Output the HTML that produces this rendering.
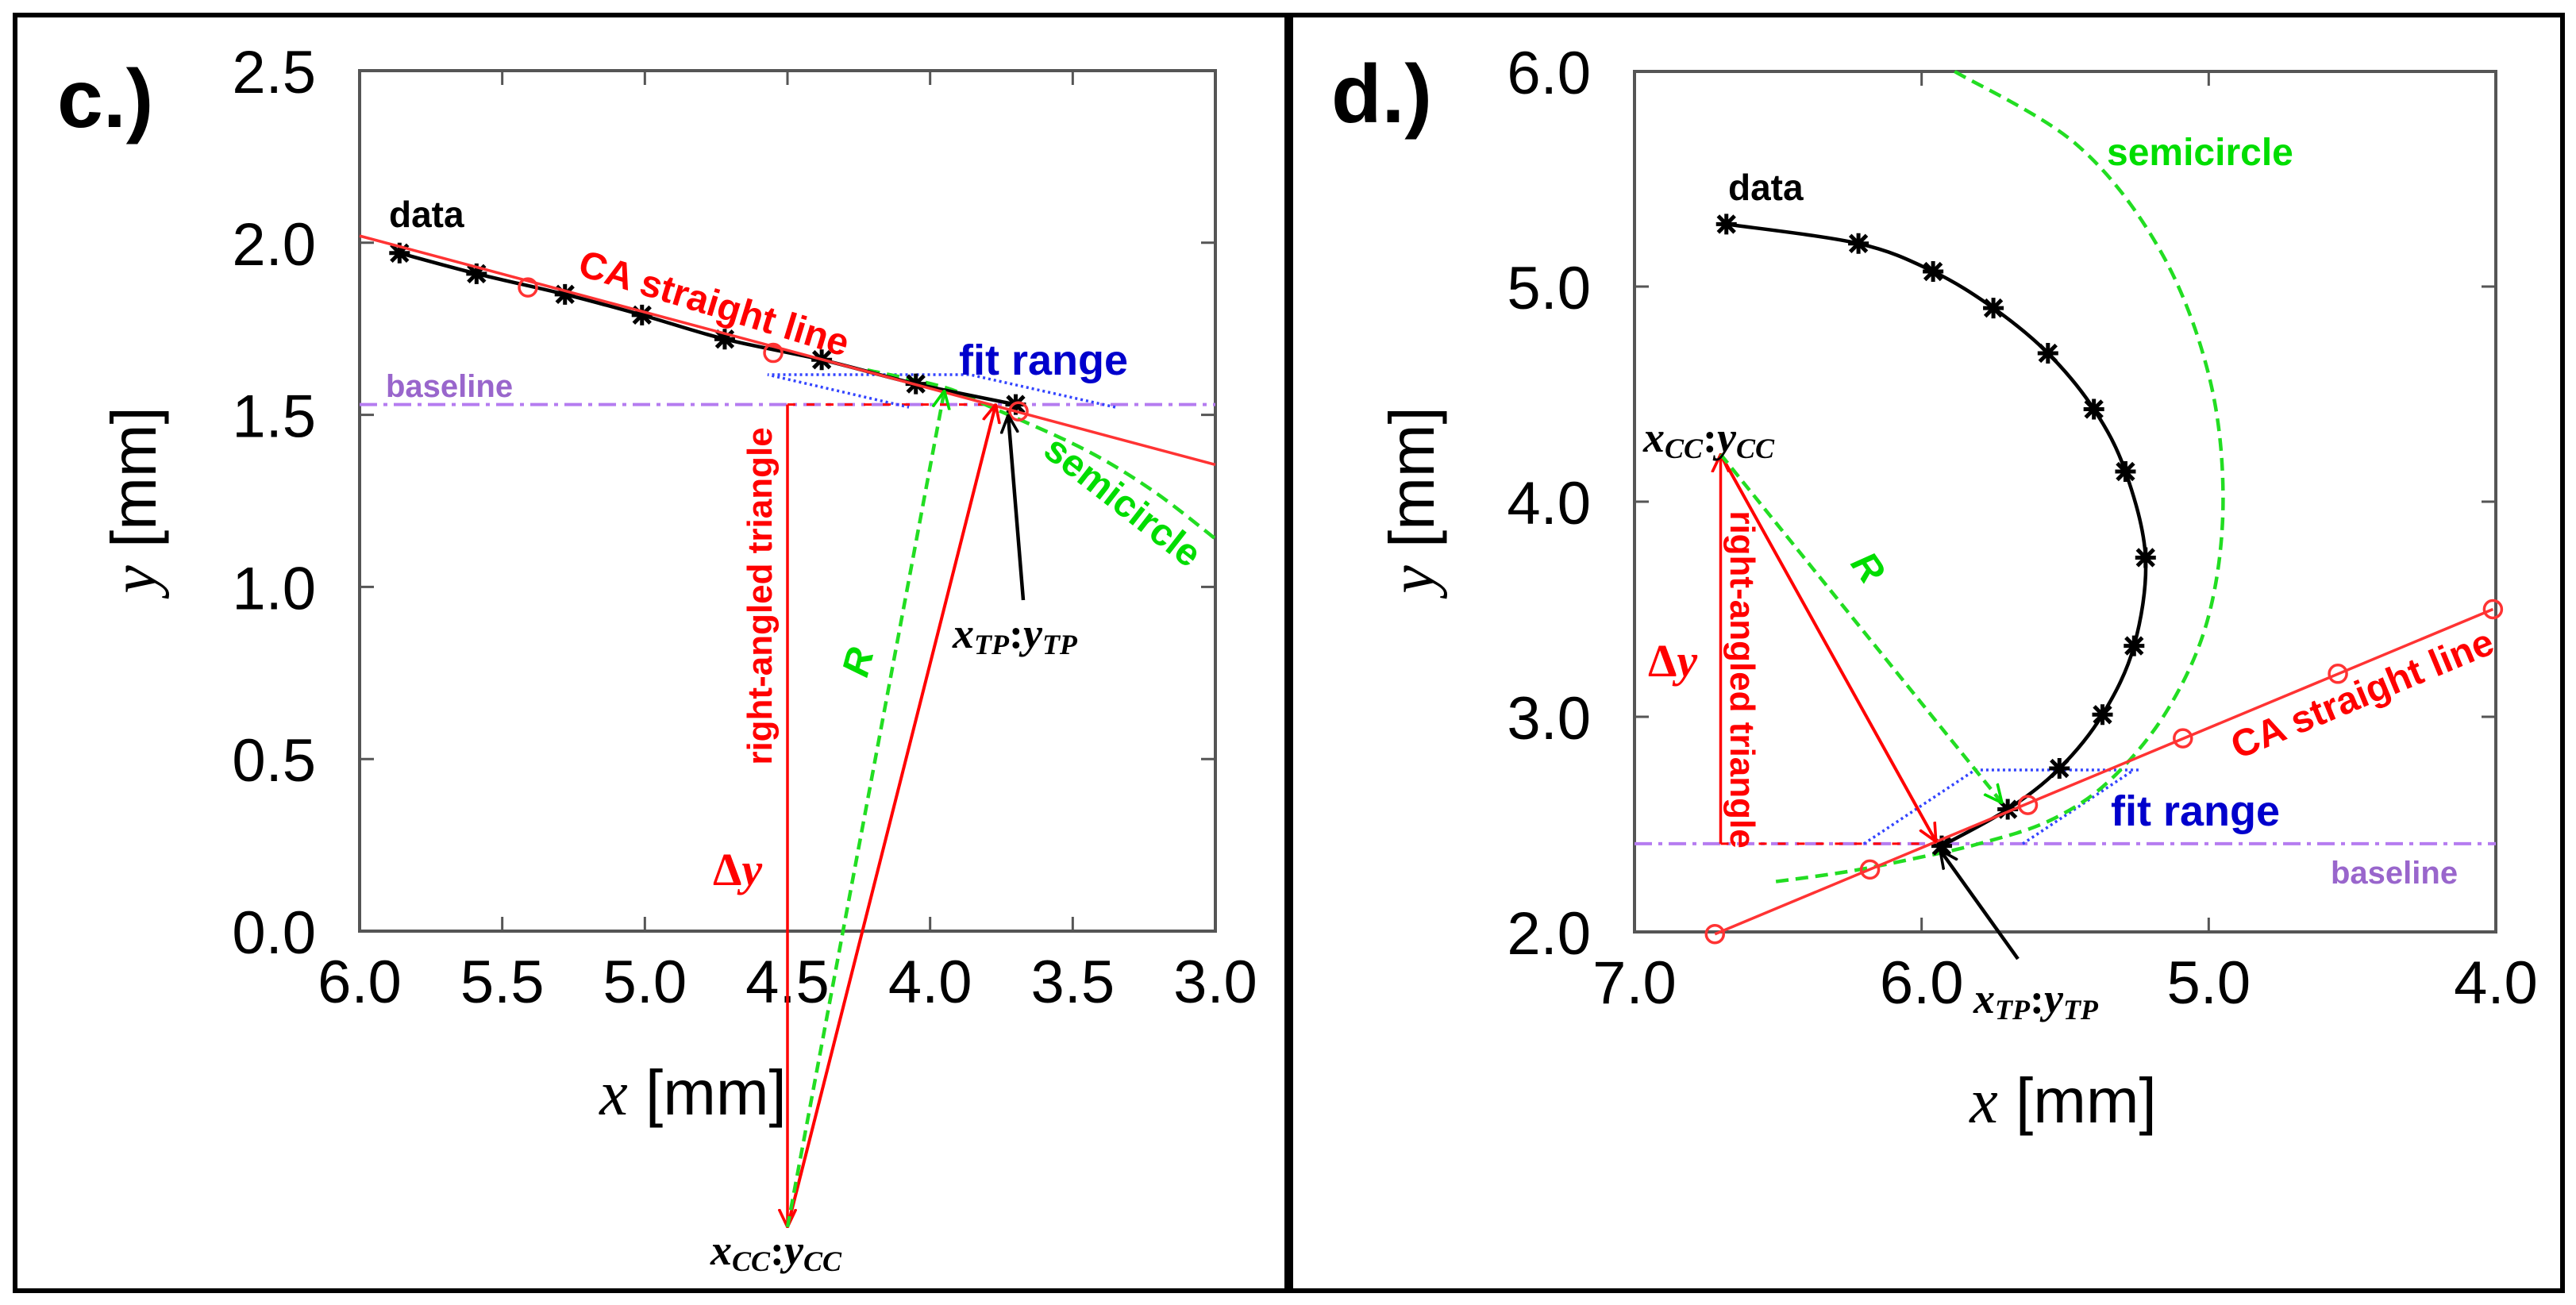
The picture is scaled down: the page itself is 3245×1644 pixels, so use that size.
<!DOCTYPE html>
<html><head><meta charset="utf-8"><style>
html,body{margin:0;padding:0;background:#fff;}
svg{display:block;}
text{font-family:"Liberation Sans",sans-serif;}
.tk{font-size:76px;fill:#000;}
.b{font-weight:bold;}
.ser{font-family:"Liberation Serif",serif;}
</style></head><body>
<svg id="fig" width="3245" height="1644" viewBox="0 0 3245 1644" xmlns="http://www.w3.org/2000/svg">
<defs>
<marker id="ar" viewBox="0 0 20 20" refX="19" refY="10" markerWidth="24" markerHeight="24" markerUnits="userSpaceOnUse" orient="auto"><path d="M0,1 L19,10 L0,19" fill="none" stroke="#f00" stroke-width="3"/></marker>
<marker id="ag" viewBox="0 0 20 20" refX="19" refY="10" markerWidth="24" markerHeight="24" markerUnits="userSpaceOnUse" orient="auto"><path d="M0,1 L19,10 L0,19" fill="none" stroke="#0d0" stroke-width="3"/></marker>
<marker id="ak" viewBox="0 0 20 20" refX="19" refY="10" markerWidth="24" markerHeight="24" markerUnits="userSpaceOnUse" orient="auto"><path d="M0,1 L19,10 L0,19" fill="none" stroke="#000" stroke-width="3"/></marker>
</defs>
<rect x="19" y="19" width="1602" height="1607" fill="none" stroke="#000" stroke-width="6"/>
<rect x="1626" y="19" width="1602" height="1607" fill="none" stroke="#000" stroke-width="6"/>
<g id="pc"></g>
<g id="pd"></g>

<!-- panel c labels -->
<text x="72" y="160" class="b" font-size="104">c.)</text>
<text transform="translate(196,630) rotate(-90)" text-anchor="middle" font-size="80"><tspan class="ser" font-style="italic">y</tspan> [mm]</text>
<text x="873" y="1404" text-anchor="middle" font-size="80"><tspan class="ser" font-style="italic">x</tspan> [mm]</text>
<text x="490" y="286" class="b" font-size="46">data</text>
<text transform="translate(726,346) rotate(17)" class="b" font-size="48" fill="#f00">CA straight line</text>
<text x="1208" y="472" class="b" font-size="54" fill="#0000cc">fit range</text>
<text x="486" y="500" class="b" font-size="40" fill="#9966cc">baseline</text>
<text transform="translate(1312,572) rotate(38)" class="b" font-size="48" fill="#00dd00">semicircle</text>
<text transform="translate(972,751) rotate(-90)" text-anchor="middle" class="b" font-size="44" fill="#f00">right-angled triangle</text>
<text transform="translate(1092,855) rotate(-75)" class="b" font-size="48" font-style="italic" fill="#00dd00">R</text>
<text x="898" y="1115" class="b ser" font-size="58" fill="#f00">Δ<tspan font-style="italic">y</tspan></text>
<text x="1200" y="816" class="b ser" font-style="italic" font-size="54">x<tspan font-size="36" dy="8">TP</tspan><tspan dy="-8" font-style="normal">:</tspan>y<tspan font-size="36" dy="8">TP</tspan></text>
<text x="895" y="1593" class="b ser" font-style="italic" font-size="54">x<tspan font-size="36" dy="8">CC</tspan><tspan dy="-8" font-style="normal">:</tspan>y<tspan font-size="36" dy="8">CC</tspan></text>

<!-- panel d labels -->
<text x="1677" y="154" class="b" font-size="104">d.)</text>
<text transform="translate(1806,630) rotate(-90)" text-anchor="middle" font-size="80"><tspan class="ser" font-style="italic">y</tspan> [mm]</text>
<text x="2599" y="1414" text-anchor="middle" font-size="80"><tspan class="ser" font-style="italic">x</tspan> [mm]</text>
<text x="2177" y="252" class="b" font-size="46">data</text>
<text x="2654" y="208" class="b" font-size="48" fill="#00dd00">semicircle</text>
<text x="2070" y="569" class="b ser" font-style="italic" font-size="54">x<tspan font-size="36" dy="8">CC</tspan><tspan dy="-8" font-style="normal">:</tspan>y<tspan font-size="36" dy="8">CC</tspan></text>
<text transform="translate(2180,856) rotate(90)" text-anchor="middle" class="b" font-size="44" fill="#f00">right-angled triangle</text>
<text x="2076" y="852" class="b ser" font-size="58" fill="#f00">Δ<tspan font-style="italic">y</tspan></text>
<text transform="translate(2330,710) rotate(55)" class="b" font-size="48" font-style="italic" fill="#00dd00">R</text>
<text transform="translate(2982,889) rotate(-22.6)" text-anchor="middle" class="b" font-size="48" fill="#f00">CA straight line</text>
<text x="2659" y="1040" class="b" font-size="54" fill="#0000cc">fit range</text>
<text x="2936" y="1113" class="b" font-size="40" fill="#9966cc">baseline</text>
<text x="2486" y="1276" class="b ser" font-style="italic" font-size="54">x<tspan font-size="36" dy="8">TP</tspan><tspan dy="-8" font-style="normal">:</tspan>y<tspan font-size="36" dy="8">TP</tspan></text>
</svg>
<script>
// ---- panel c data ----
const cXTicks = [6.0, 5.5, 5.0, 4.5, 4.0, 3.5, 3.0];
const cYTicks = [0.0, 0.5, 1.0, 1.5, 2.0, 2.5];
const cDataX = [5.86, 5.59, 5.28, 5.01, 4.72, 4.38, 4.05, 3.70];
const cDataY = [1.97, 1.91, 1.85, 1.79, 1.72, 1.66, 1.59, 1.53];
const cLineX = [6.0, 3.0];
const cLineY = [2.02, 1.355];
const cCircX = [5.41, 4.55, 3.69];
const cCircY = [1.87, 1.68, 1.51];
const cSemiX = [4.22, 3.95, 3.78, 3.46, 3.22, 3.0];
const cSemiY = [1.63, 1.58, 1.52, 1.40, 1.28, 1.14];
const cBaseline = 1.53;
const cCenter = [4.5, -0.86];
const cTP = [3.77, 1.53];
const cRTip = [3.95, 1.57];
// ---- panel d data ----
const dXTicks = [7.0, 6.0, 5.0, 4.0];
const dYTicks = [2.0, 3.0, 4.0, 5.0, 6.0];
const dDataX = [6.68, 6.22, 5.96, 5.75, 5.56, 5.40, 5.29, 5.22, 5.26, 5.37, 5.52, 5.70, 5.93];
const dDataY = [5.29, 5.20, 5.07, 4.90, 4.69, 4.43, 4.14, 3.74, 3.33, 3.01, 2.76, 2.57, 2.40];
const dLineX = [6.72, 4.01];
const dLineY = [1.99, 3.50];
const dCircX = [6.72, 6.18, 5.63, 5.09, 4.55, 4.01];
const dCircY = [1.99, 2.29, 2.59, 2.90, 3.20, 3.50];
const dSemiX = [5.885, 5.46, 5.17, 5.00, 4.95, 5.00, 5.14, 5.34, 5.55, 5.80, 6.03, 6.26, 6.53];
const dSemiY = [6.00, 5.66, 5.17, 4.59, 4.01, 3.47, 3.04, 2.71, 2.52, 2.41, 2.34, 2.28, 2.23];
const dBaseline = 2.41;
const dCenter = [6.70, 4.22];
const dTP = [5.95, 2.42];
const dRTip = [5.72, 2.60];

const NS = 'http://www.w3.org/2000/svg';
function mk(parent, tag, attrs) {
  const e = document.createElementNS(NS, tag);
  for (const k in attrs) e.setAttribute(k, attrs[k]);
  parent.appendChild(e);
  return e;
}
function smooth(pts) {
  let d = 'M' + pts[0][0] + ',' + pts[0][1];
  for (let i = 0; i < pts.length - 1; i++) {
    const p0 = pts[Math.max(0, i - 1)], p1 = pts[i], p2 = pts[i + 1], p3 = pts[Math.min(pts.length - 1, i + 2)];
    const c1 = [p1[0] + (p2[0] - p0[0]) / 6, p1[1] + (p2[1] - p0[1]) / 6];
    const c2 = [p2[0] - (p3[0] - p1[0]) / 6, p2[1] - (p3[1] - p1[1]) / 6];
    d += ' C' + c1 + ' ' + c2 + ' ' + p2;
  }
  return d;
}
function star(g, x, y) {
  const s = 13;
  const p = mk(g, 'path', {d: `M${x-s},${y}H${x+s}M${x},${y-s}V${y+s}M${x-s*0.8},${y-s*0.8}L${x+s*0.8},${y+s*0.8}M${x-s*0.8},${y+s*0.8}L${x+s*0.8},${y-s*0.8}`, stroke: '#000', 'stroke-width': 5});
  
  
}

function panel(cfg) {
  const g = document.getElementById(cfg.id);
  const sx = v => cfg.x0 + (v - cfg.xmin) / (cfg.xmax - cfg.xmin) * (cfg.x1 - cfg.x0);
  const sy = v => cfg.y0 + (v - cfg.ymin) / (cfg.ymax - cfg.ymin) * (cfg.y1 - cfg.y0);
  const fr = mk(g, 'rect', {x: cfg.x0, y: cfg.y1, width: cfg.x1 - cfg.x0, height: cfg.y0 - cfg.y1, fill: 'none', stroke: '#555', 'stroke-width': 4});
  
  
  cfg.xt.forEach(v => {
    const x = sx(v);
    const t = mk(g, 'path', {d: `M${x},${cfg.y0}v-18M${x},${cfg.y1}v18`, stroke: '#555', 'stroke-width': 3});
    
    
    const l = mk(g, 'text', {x: x, y: cfg.y0 + 90, 'text-anchor': 'middle', class: 'tk'});
    l.textContent = v.toFixed(1);
    
    
  });
  cfg.yt.forEach(v => {
    const y = sy(v);
    const t = mk(g, 'path', {d: `M${cfg.x0},${y}h18M${cfg.x1},${y}h-18`, stroke: '#555', 'stroke-width': 3});
    
    
    const l = mk(g, 'text', {x: cfg.x0 - 55, y: y + 28, 'text-anchor': 'end', class: 'tk'});
    l.textContent = v.toFixed(1);
    
    
  });
  const bl = mk(g, 'line', {x1: cfg.x0, x2: cfg.x1, y1: sy(cfg.base), y2: sy(cfg.base), stroke: '#b57cf0', 'stroke-width': 4, 'stroke-dasharray': '22 8 5 8'});
  
  
  const th = mk(g, 'line', {x1: sx(cfg.cc[0]), x2: sx(cfg.tp[0]), y1: sy(cfg.base), y2: sy(cfg.base), stroke: '#f00', 'stroke-width': 3, 'stroke-dasharray': '10 14'});
  
  
  const fp = mk(g, 'path', {d: cfg.fit, fill: 'none', stroke: '#3344ff', 'stroke-width': 3.5, 'stroke-dasharray': '3 4'});
  
  
  const sp = mk(g, 'path', {d: smooth(cfg.semiX.map((v, i) => [sx(v), sy(cfg.semiY[i])])), fill: 'none', stroke: '#22dd22', 'stroke-width': 4.5, 'stroke-dasharray': '16 9'});
  
  
  const dp = mk(g, 'path', {d: smooth(cfg.dx.map((v, i) => [sx(v), sy(cfg.dy[i])])), fill: 'none', stroke: '#000', 'stroke-width': 4.5});
  
  
  cfg.dx.forEach((v, i) => star(g, sx(v), sy(cfg.dy[i])));
  const ca = mk(g, 'line', {x1: sx(cfg.lx[0]), y1: sy(cfg.ly[0]), x2: sx(cfg.lx[1]), y2: sy(cfg.ly[1]), stroke: '#f33', 'stroke-width': 3.5});
  
  
  cfg.cx.forEach((v, i) => {
    const c = mk(g, 'circle', {cx: sx(v), cy: sy(cfg.cy[i]), r: 11, fill: 'none', stroke: '#f33', 'stroke-width': 3.5});
    
    
  });
  const tv = mk(g, 'line', {x1: sx(cfg.cc[0]), y1: sy(cfg.base), x2: sx(cfg.cc[0]), y2: sy(cfg.cc[1]), stroke: '#f00', 'stroke-width': 3.5, 'marker-end': 'url(#ar)'});
  
  
  const ra = mk(g, 'line', {x1: sx(cfg.cc[0]), y1: sy(cfg.cc[1]), x2: sx(cfg.tp[0]), y2: sy(cfg.tp[1]), stroke: '#f00', 'stroke-width': 4, 'marker-end': 'url(#ar)'});
  
  
  const ga = mk(g, 'line', {x1: sx(cfg.cc[0]), y1: sy(cfg.cc[1]), x2: sx(cfg.rt[0]), y2: sy(cfg.rt[1]), stroke: '#22dd22', 'stroke-width': 4.5, 'stroke-dasharray': '14 8', 'marker-end': 'url(#ag)'});
  
  
  const ka = mk(g, 'line', {x1: cfg.kp[0], y1: cfg.kp[1], x2: cfg.kp[2], y2: cfg.kp[3], stroke: '#000', 'stroke-width': 4.5, 'marker-end': 'url(#ak)'});
  
  
}

panel({id: 'pc', x0: 453, x1: 1531, y0: 1173, y1: 89, xmin: 6.0, xmax: 3.0, ymin: 0, ymax: 2.5,
  xt: cXTicks, yt: cYTicks, dx: cDataX, dy: cDataY, lx: cLineX, ly: cLineY, cx: cCircX, cy: cCircY,
  semiX: cSemiX, semiY: cSemiY, base: cBaseline, cc: cCenter, tp: cTP, rt: cRTip,
  fit: 'M1405,513 L1222,472 L967,472 L1145,513', kp: [1289, 756, 1270, 523]});
panel({id: 'pd', x0: 2059, x1: 3144, y0: 1174, y1: 90, xmin: 7.0, xmax: 4.0, ymin: 2.0, ymax: 6.0,
  xt: dXTicks, yt: dYTicks, dx: dDataX, dy: dDataY, lx: dLineX, ly: dLineY, cx: dCircX, cy: dCircY,
  semiX: dSemiX, semiY: dSemiY, base: dBaseline, cc: dCenter, tp: dTP, rt: dRTip,
  fit: 'M2348,1063 L2488,970 L2695,970 M2548,1063 L2688,970', kp: [2542, 1208, 2444, 1071]});
</script>
</body></html>
